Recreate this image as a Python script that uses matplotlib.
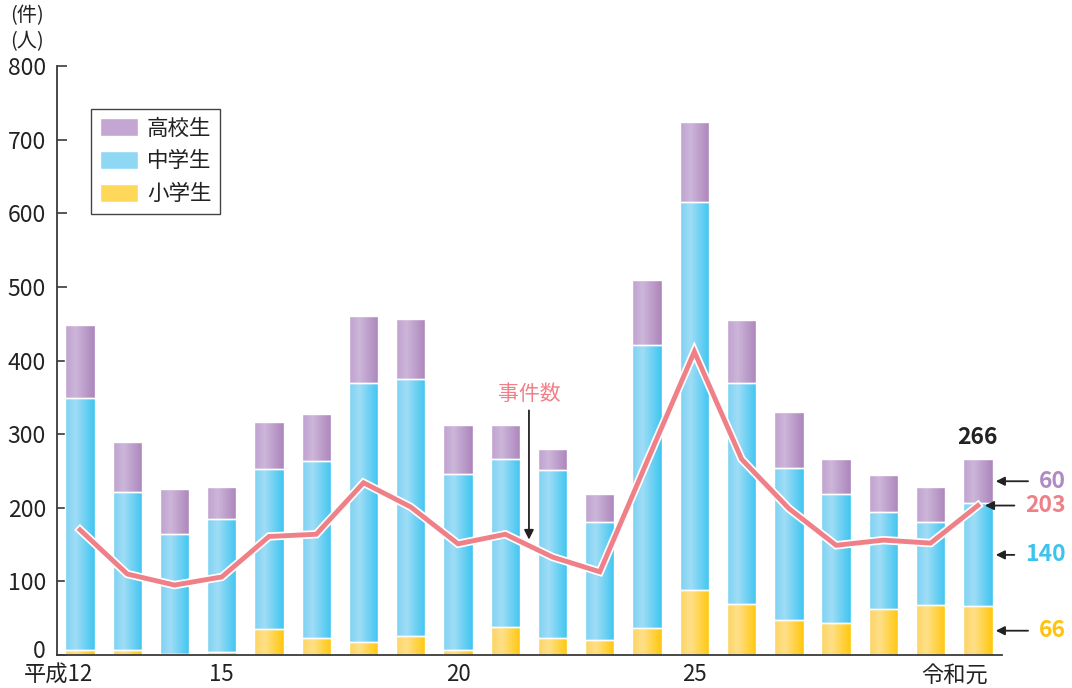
import numpy as np
import matplotlib
matplotlib.use("Agg")
from matplotlib import pyplot as plt
from matplotlib import patheffects as pe
from matplotlib import transforms
from matplotlib.colors import to_rgb
from matplotlib.patches import Patch

plt.rcParams['font.family'] = ['Noto Sans CJK JP', 'DejaVu Sans']

# 平成12年〜令和元年
years = ['平成12', '13', '14', '15', '16', '17', '18', '19', '20', '21',
         '22', '23', '24', '25', '26', '27', '28', '29', '30', '令和元']
shown_labels = {0: '平成12', 3: '15', 8: '20', 13: '25', 19: '令和元'}

elementary = [7, 7, 1, 4, 35, 23, 18, 26, 7, 38, 23, 20, 36, 88, 69, 48, 44, 63, 68, 66]
junior = [342, 215, 163, 181, 217, 240, 352, 349, 239, 228, 228, 161, 385, 527, 301, 206, 174, 131, 113, 140]
high = [99, 67, 61, 43, 64, 64, 90, 82, 66, 46, 29, 38, 89, 109, 85, 76, 48, 50, 47, 60]
cases = [170, 110, 95, 106, 161, 164, 234, 201, 151, 164, 133, 113, 263, 412, 266, 199, 149, 156, 152, 203]

# 色 (左→右のグラデーション)
grad_high = [(0.0, '#BFA1CE'), (0.35, '#CDB6DA'), (1.0, '#AC85BB')]
grad_junior = [(0.0, '#7BD2F3'), (0.35, '#A0DDF6'), (1.0, '#3EC5F1')]
grad_elem = [(0.0, '#FCD461'), (0.35, '#FFE08A'), (1.0, '#FFC70A')]
line_color = '#EF8088'
axis_color = '#3a3a3a'


def gradient(stops, n=64):
    pos = [s[0] for s in stops]
    cols = np.array([to_rgb(s[1]) for s in stops])
    t = np.linspace(0, 1, n)
    arr = np.stack([np.interp(t, pos, cols[:, k]) for k in range(3)], axis=-1)
    return arr[np.newaxis, :, :]


def fill_gradient(ax, bars, stops):
    img = gradient(stops)
    for p in bars.patches:
        x0, y0 = p.get_xy()
        w, h = p.get_width(), p.get_height()
        if h <= 0:
            continue
        im = ax.imshow(img, extent=(x0, x0 + w, y0, y0 + h), aspect='auto',
                       interpolation='bilinear', zorder=2)
        im.set_clip_path(p)
        p.set_facecolor('none')
        p.set_zorder(2.1)


fig = plt.figure(figsize=(10.72, 6.88), dpi=100)
ax = fig.add_axes([57 / 1072, 33 / 688, 945 / 1072, 589 / 688])

x = np.arange(len(years))
bw = 0.62
elem = np.array(elementary)
jun = np.array(junior)
hig = np.array(high)

b1 = ax.bar(x, elem, bw, color='#FFD84A', edgecolor='white', linewidth=1.0)
b2 = ax.bar(x, jun, bw, bottom=elem, color='#6FCFF2', edgecolor='white', linewidth=1.0)
b3 = ax.bar(x, hig, bw, bottom=elem + jun, color='#BC9BCB', edgecolor='white', linewidth=1.0)
fill_gradient(ax, b1, grad_elem)
fill_gradient(ax, b2, grad_junior)
fill_gradient(ax, b3, grad_high)

ax.plot(x, cases, color=line_color, lw=3.5, zorder=4, solid_joinstyle='miter',
        path_effects=[pe.Stroke(linewidth=6.0, foreground='white'), pe.Normal()])

ax.set_xlim(-0.487, 19.51)
ax.set_ylim(0, 800)
ax.set_yticks(range(0, 801, 100))
ax.tick_params(axis='y', direction='in', length=7, width=1.2, colors=axis_color,
               labelsize=16.5, pad=8, labelcolor='#222222')
ax.set_xticks(list(shown_labels.keys()))
ax.set_xticklabels(list(shown_labels.values()))
ax.tick_params(axis='x', length=0, labelsize=16, pad=6, labelcolor='#222222')
for lab in ax.get_xticklabels():
    if lab.get_text() in ('平成12', '令和元'):
        lab.set_horizontalalignment('right')
        shift = 0.13 if lab.get_text() == '平成12' else 0.10
        lab.set_transform(lab.get_transform() + transforms.ScaledTranslation(shift, 0, fig.dpi_scale_trans))
zero_lab = ax.get_yticklabels()[0]
zero_lab.set_transform(zero_lab.get_transform() + transforms.ScaledTranslation(0, 0.065, fig.dpi_scale_trans))
for s in ('top', 'right'):
    ax.spines[s].set_visible(False)
for s in ('left', 'bottom'):
    ax.spines[s].set_color(axis_color)
    ax.spines[s].set_linewidth(1.3)

fig.text(10 / 1072, 1 - 29 / 688, '(件)\n(人)', fontsize=14.5, color='#222222',
         ha='left', va='center', linespacing=1.3)

handles = [Patch(facecolor='#C3A6D1', edgecolor='white', label='高校生'),
           Patch(facecolor='#8ED8F4', edgecolor='white', label='中学生'),
           Patch(facecolor='#FFD85A', edgecolor='white', label='小学生')]
leg = ax.legend(handles=handles, loc='upper left', bbox_to_anchor=(0.036, 0.927),
                borderaxespad=0, fancybox=False, fontsize=15.5, handlelength=1.8,
                handleheight=0.9, labelspacing=0.5, handletextpad=0.4,
                borderpad=0.4, framealpha=1)
leg.get_frame().set_edgecolor('#444444')
leg.get_frame().set_linewidth(1.0)
for t in leg.get_texts():
    t.set_color('#222222')

# 事件数の注記
ax.annotate('', xy=(9.5, cases[10] + 20), xytext=(9.5, 336),
            arrowprops=dict(arrowstyle='-|>', color='#222222', lw=1.3, mutation_scale=14))
ax.text(9.5, 355, '事件数', color=line_color, fontsize=15, ha='center', va='center')

# 令和元年の内訳
last = len(years) - 1
total = elementary[last] + junior[last] + high[last]
ax.text(x[last], total + 14, str(total), fontsize=16.5, fontweight='bold',
        color='#222222', ha='center', va='bottom')

notes = [
    (elementary[last] + junior[last] + high[last] / 2, str(high[last]), '#B08BC3', 20.12),
    (cases[last], str(cases[last]), line_color, 19.83),
    (elementary[last] + junior[last] / 2, str(junior[last]), '#3EC3EE', 19.83),
    (elementary[last] / 2, str(elementary[last]), '#FFC20E', 20.12),
]
for yv, txt, col, xs in notes:
    tip = 19.32 if txt != str(cases[last]) else 19.09
    ax.annotate('', xy=(tip, yv), xytext=(xs, yv), annotation_clip=False,
                arrowprops=dict(arrowstyle='-|>', color='#222222', lw=1.3, mutation_scale=13))
    ax.text(20.86, yv, txt, color=col, fontsize=16.5, fontweight='bold',
            ha='right', va='center', clip_on=False)

fig.savefig('out.png', dpi=100)
